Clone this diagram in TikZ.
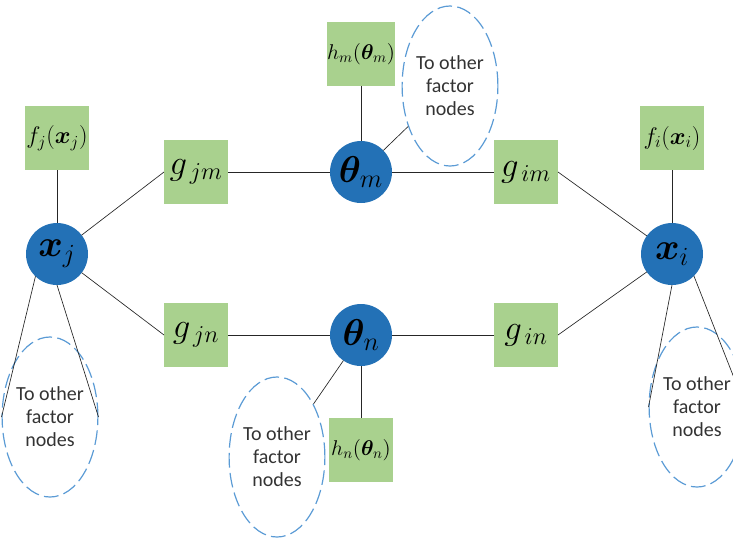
\documentclass[tikz,border=0pt]{standalone}
\usepackage{fix-cm}
\usepackage{amsmath,amssymb,bm}
\usepackage[no-math]{fontspec}
\newfontfamily\carlito{Carlito}
\usetikzlibrary{shapes,positioning}

\definecolor{boxgreen}{RGB}{169,209,142}
\definecolor{nodeblue}{RGB}{35,113,182}
\definecolor{dashblue}{RGB}{91,155,213}

\tikzset{
  factor/.style={rectangle, fill=boxgreen, minimum size=48pt, inner sep=0pt, outer sep=0pt},
  var/.style={circle, fill=nodeblue, minimum size=46.5pt, inner sep=0pt, outer sep=0pt, font=\fontsize{28}{30}\selectfont},
  other/.style={ellipse, draw=dashblue, dash pattern=on 11pt off 4pt, line width=0.9pt, minimum width=59pt, minimum height=120pt, inner sep=0pt, align=center, text=black!80, font=\carlito\fontsize{15}{17.25}\selectfont},
  link/.style={draw=black!85, line width=0.5pt}
}

\begin{document}
\begin{tikzpicture}[x=0.75pt, y=-0.75pt]
  \useasboundingbox (0,0) rectangle (733,540);

  \node[var] (xj) at (57,254) {$\bm{x}_j$};
  \node[var] (xi) at (672,254) {$\bm{x}_i$};
  \node[var] (thm) at (361,172) {$\bm{\theta}_m$};
  \node[var] (thn) at (361,335) {$\bm{\theta}_n$};

  \node[factor, font=\fontsize{18}{20}\selectfont] (fj) at (57,138) {$f_j(\bm{x}_j)$};
  \node[factor, font=\fontsize{18}{20}\selectfont] (fi) at (672,138) {$f_i(\bm{x}_i)$};
  \node[factor, font=\fontsize{16}{18}\selectfont] (hm) at (361,54) {$h_m(\bm{\theta}_m)$};
  \node[factor, font=\fontsize{16}{18}\selectfont] (hn) at (361,450) {$h_n(\bm{\theta}_n)$};

  \node[factor, font=\fontsize{26}{28}\selectfont] (gjm) at (196,172) {$g_{\,jm}$};
  \node[factor, font=\fontsize{26}{28}\selectfont] (gim) at (526,172) {$g_{\,im}$};
  \node[factor, font=\fontsize{26}{28}\selectfont] (gjn) at (196,335) {$g_{\,jn}$};
  \node[factor, font=\fontsize{26}{28}\selectfont] (gin) at (526,335) {$g_{\,in}$};

  \node[other] (om) at (450,86) {To other\\factor\\nodes};
  \node[other] (on) at (277,457) {To other\\factor\\nodes};
  \node[other] (oj) at (50,417) {To other\\factor\\nodes};
  \node[other] (oi) at (697,407) {To other\\factor\\nodes};

  \draw[link] (fj) -- (xj);
  \draw[link] (xj) -- (gjm.west);
  \draw[link] (xj) -- (gjn.west);
  \draw[link] (gjm) -- (thm);
  \draw[link] (thm) -- (gim);
  \draw[link] (gjn) -- (thn);
  \draw[link] (thn) -- (gin);
  \draw[link] (gim.east) -- (xi);
  \draw[link] (gin.east) -- (xi);
  \draw[link] (fi) -- (xi);
  \draw[link] (hm) -- (thm);
  \draw[link] (thn) -- (hn);

  \draw[link] (thm) -- (om);
  \draw[link] (thn) -- (on);
  \draw[link] (xj.-134) -- (oj.west);
  \draw[link] (xj.south) -- (oj.east);
  \draw[link] (xi.south) -- (oi.west);
  \draw[link] (xi.-45) -- (oi.east);

\end{tikzpicture}
\end{document}
